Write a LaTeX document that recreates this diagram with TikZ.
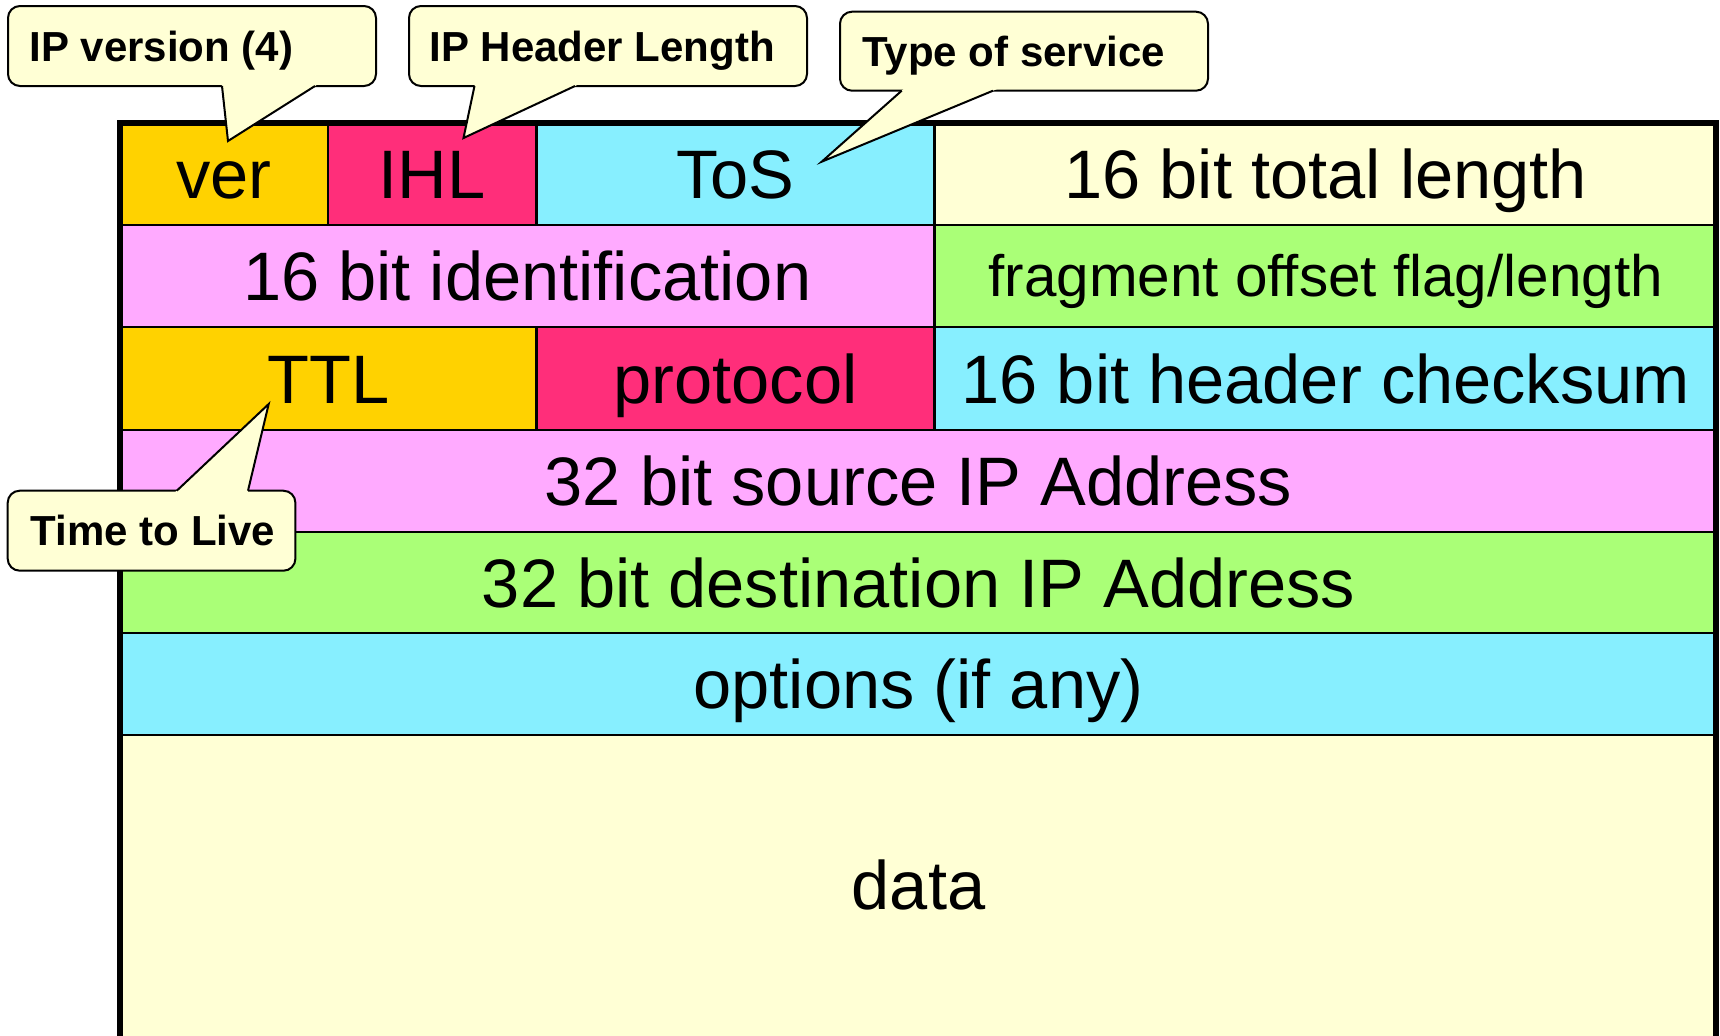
\documentclass[tikz,border=0pt]{standalone}
\usepackage{fontspec}
\setmainfont{Liberation Sans}
\usetikzlibrary{calc}
\definecolor{cgold}{HTML}{FFD200}
\definecolor{cmag}{HTML}{FF2E7A}
\definecolor{ccyan}{HTML}{87EFFF}
\definecolor{cpale}{HTML}{FFFFD5}
\definecolor{cpink}{HTML}{FFAAFF}
\definecolor{cgreen}{HTML}{AAFF77}
\newcommand\mainfs{\fontsize{34.3}{40}\selectfont}
\newcommand\fragfs{\fontsize{29.2}{34}\selectfont}
\newcommand\callfs{\fontsize{21}{25}\selectfont\bfseries}
\begin{document}
\begin{tikzpicture}[x=0.5pt,y=-0.5pt,
  cell/.style={draw=black, line width=1.1pt, inner sep=0pt, font=\mainfs,
    text height=24.6pt, text depth=0pt},
  rowa/.style={minimum height=51pt},
  rowb/.style={minimum height=51.5pt},
  frame/.style={line width=2.6pt, line join=miter},
  callbox/.style={draw=black, fill=cpale, line width=1pt, rounded corners=6pt},
  callfill/.style={fill=cpale},
  callside/.style={draw=black, line width=1pt, line join=miter},
  ctext/.style={font=\callfs, inner sep=0pt, anchor=west, text height=15pt, text depth=0pt}]
\useasboundingbox (0,0) rectangle (1720,1035);
% row 1
\node[cell, rowa, fill=cgold, minimum width=104pt] (ver) at (224,174) {ver};
\node[cell, rowa, fill=cmag, minimum width=104.25pt] (ihl) at (432.25,174) {IHL};
\node[cell, rowa, fill=ccyan, minimum width=199pt] (tos) at (735.5,174) {ToS};
\node[cell, rowa, fill=cpale, minimum width=391.25pt] (tlen) at (1325.75,174) {16 bit total length};
% row 2
\node[cell, rowa, fill=cpink, minimum width=407.25pt] (ident) at (527.25,276) {16 bit identification};
\node[cell, rowa, fill=cgreen, minimum width=391.25pt, font=\fragfs, text height=20.9pt] (frag) at (1325.75,276) {fragment offset flag/length};
% row 3
\node[cell, rowb, fill=cgold, minimum width=208.25pt] (ttl) at (328.25,378.5) {TTL};
\node[cell, rowb, fill=cmag, minimum width=199pt] (proto) at (735.5,378.5) {protocol};
\node[cell, rowb, fill=ccyan, minimum width=391.25pt] (csum) at (1325.75,378.5) {16 bit header checksum};
% rows 4-6
\node[cell, rowa, fill=cpink, minimum width=798.5pt] (src) at (918.5,481) {32 bit source IP Address};
\node[cell, minimum height=50.5pt, fill=cgreen, minimum width=798.5pt] (dst) at (918.5,582.5) {32 bit destination IP Address};
\node[cell, rowa, fill=ccyan, minimum width=798.5pt] (opt) at (918.5,684) {options (if any)};
% data
\fill[cpale] (120,735.5) rectangle (1717,1050);
\node[font=\mainfs, inner sep=0pt, text height=24.6pt, text depth=0pt] (data) at (918.5,885) {data};
% outer frame
\draw[frame] (120,1050) -- (120,123) -- (1716,123) -- (1716,1050);
% callout: IP version
\coordinate (tipver) at (228,141);
\coordinate (va) at (222,86);
\coordinate (vb) at (315,86);
\draw[callbox] (8,6) rectangle (376,86);
\fill[callfill] ($(tipver)!1.12!(va)$) -- (tipver) -- ($(tipver)!1.12!(vb)$) -- cycle;
\draw[callside] (va) -- (tipver) -- (vb);
\node[ctext] (cver) at (29,46) {IP version (4)};
% callout: IP Header Length
\coordinate (tipihl) at (463.5,138);
\coordinate (ha) at (474.5,86);
\coordinate (hb) at (575,86);
\draw[callbox] (409,6) rectangle (807,86);
\fill[callfill] ($(tipihl)!1.12!(ha)$) -- (tipihl) -- ($(tipihl)!1.12!(hb)$) -- cycle;
\draw[callside] (ha) -- (tipihl) -- (hb);
\node[ctext] (cihl) at (429,46) {IP Header Length};
% callout: Type of service
\coordinate (tiptos) at (821.7,161.7);
\coordinate (ta) at (901.7,90.7);
\coordinate (tb) at (993,90.7);
\draw[callbox] (840,11.7) rectangle (1208,90.7);
\fill[callfill] ($(tiptos)!1.08!(ta)$) -- (tiptos) -- ($(tiptos)!1.08!(tb)$) -- cycle;
\draw[callside] (ta) -- (tiptos) -- (tb);
\node[ctext] (ctos) at (862,51.2) {Type of service};
% callout: Time to Live
\coordinate (tipttl) at (268.7,404);
\coordinate (la) at (176.8,490.7);
\coordinate (lb) at (248,490.7);
\draw[callbox] (7.7,490.7) rectangle (295.4,570.7);
\fill[callfill] ($(tipttl)!1.08!(la)$) -- (tipttl) -- ($(tipttl)!1.08!(lb)$) -- cycle;
\draw[callside] (la) -- (tipttl) -- (lb);
\node[ctext] (cttl) at (30.5,530.7) {Time to Live};
\end{tikzpicture}
\end{document}
